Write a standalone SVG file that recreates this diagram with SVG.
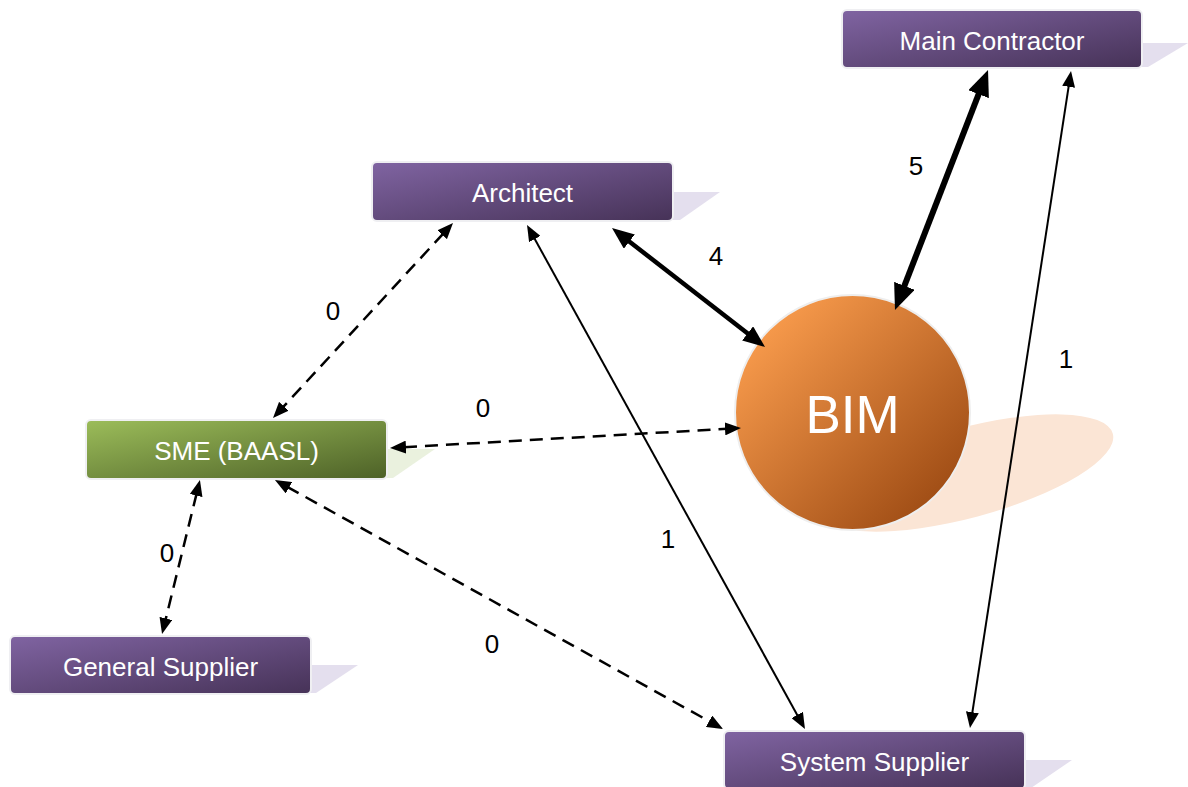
<svg xmlns="http://www.w3.org/2000/svg" width="1188" height="787" viewBox="0 0 1188 787">
  <defs>
    <linearGradient id="gPurple" x1="0" y1="0" x2="1" y2="1">
      <stop offset="0" stop-color="#8064a2"/>
      <stop offset="1" stop-color="#463257"/>
    </linearGradient>
    <linearGradient id="gGreen" x1="0" y1="0" x2="1" y2="1">
      <stop offset="0" stop-color="#9cbd5a"/>
      <stop offset="1" stop-color="#4d6127"/>
    </linearGradient>
    <linearGradient id="gOrange" x1="0.15" y1="0.15" x2="0.9" y2="0.9">
      <stop offset="0" stop-color="#f5984a"/>
      <stop offset="1" stop-color="#9c4a13"/>
    </linearGradient>
    <marker id="arrS" markerUnits="userSpaceOnUse" markerWidth="16" markerHeight="13" refX="2" refY="6.5" orient="auto-start-reverse" viewBox="0 0 16 13">
      <path d="M0,0 L16,6.5 L0,13 Z" fill="#000"/>
    </marker>
    <marker id="arrM" markerUnits="userSpaceOnUse" markerWidth="22" markerHeight="18" refX="3" refY="9" orient="auto-start-reverse" viewBox="0 0 22 18">
      <path d="M0,0 L22,9 L0,18 Z" fill="#000"/>
    </marker>
    <marker id="arrL" markerUnits="userSpaceOnUse" markerWidth="26" markerHeight="22" refX="3" refY="11" orient="auto-start-reverse" viewBox="0 0 26 22">
      <path d="M0,0 L26,11 L0,22 Z" fill="#000"/>
    </marker>
  </defs>
  <style>
    .box { stroke: #efeff2; stroke-width: 2; }
    .purple { fill: url(#gPurple); }
    .green { fill: url(#gGreen); }
    .shPurple { fill: #e4dfee; }
    .shGreen { fill: #eaf1de; }
    .lbl { font-family: "Liberation Sans", Arial, sans-serif; font-size: 26px; fill: #ffffff; text-anchor: middle; }
    .num { font-family: "Liberation Sans", Arial, sans-serif; font-size: 26px; fill: #000000; text-anchor: middle; }
    .thin { stroke: #000; stroke-width: 2; fill: none; marker-start: url(#arrS); marker-end: url(#arrS); }
    .dash { stroke: #000; stroke-width: 2.5; fill: none; stroke-dasharray: 13 8; marker-start: url(#arrS); marker-end: url(#arrS); }
  </style>

  <rect width="1188" height="787" fill="#ffffff"/>

  <!-- BIM hub -->
  <g id="bim">
    <ellipse cx="966" cy="473" rx="152" ry="45" transform="rotate(-15 966 473)" fill="#fbe5d5"/>
    <circle cx="852.5" cy="412.5" r="117.5" fill="url(#gOrange)" stroke="#eeeeee" stroke-width="2"/>
    <text x="852.5" y="433" font-family="Liberation Sans, Arial, sans-serif" font-size="53" fill="#ffffff" text-anchor="middle">BIM</text>
  </g>

  <g id="main-contractor">
    <polygon class="shPurple" points="1132,43 1188,43 1148,67 1132,67"/>
    <rect class="box purple" x="842" y="10" width="300" height="58" rx="5"/>
    <text class="lbl" x="992" y="50">Main Contractor</text>
  </g>

  <g id="architect">
    <polygon class="shPurple" points="663,192 720,192 680,220 663,220"/>
    <rect class="box purple" x="372" y="162" width="301" height="59" rx="5"/>
    <text class="lbl" x="522.5" y="202">Architect</text>
  </g>

  <g id="sme">
    <polygon class="shGreen" points="377,449 435,449 393,478 377,478"/>
    <rect class="box green" x="86" y="420" width="301" height="59" rx="5"/>
    <text class="lbl" x="236.5" y="460">SME (BAASL)</text>
  </g>

  <g id="general-supplier">
    <polygon class="shPurple" points="301,665 358,665 316,693 301,693"/>
    <rect class="box purple" x="10" y="636" width="301" height="58" rx="5"/>
    <text class="lbl" x="160.5" y="676">General Supplier</text>
  </g>

  <g id="system-supplier">
    <polygon class="shPurple" points="1015,760 1072,760 1031,788 1015,788"/>
    <rect class="box purple" x="724" y="731" width="301" height="58" rx="5"/>
    <text class="lbl" x="874.5" y="771">System Supplier</text>
  </g>

  <!-- connectors -->
  <g id="connectors">
    <line x1="979.7" y1="91.4" x2="903.3" y2="288.6" stroke="#000" stroke-width="6" marker-start="url(#arrL)" marker-end="url(#arrL)"/>
    <line x1="627" y1="239.7" x2="750" y2="335.3" stroke="#000" stroke-width="4.5" marker-start="url(#arrM)" marker-end="url(#arrM)"/>
    <line class="thin" x1="1068.9" y1="84.8" x2="972.1" y2="714.2"/>
    <line class="thin" x1="533.8" y1="237.3" x2="798.2" y2="716.7"/>
    <line class="dash" x1="443.5" y1="233.3" x2="282.5" y2="407.7"/>
    <line class="dash" x1="404" y1="447.2" x2="727" y2="428.8"/>
    <line class="dash" x1="196.6" y1="493.6" x2="165.4" y2="620.4"/>
    <line class="dash" x1="287.2" y1="486.8" x2="710.8" y2="722.2"/>
  </g>

  <!-- connector weights -->
  <g id="weights">
    <text class="num" x="916" y="175">5</text>
    <text class="num" x="716" y="265">4</text>
    <text class="num" x="1066" y="368">1</text>
    <text class="num" x="333" y="320">0</text>
    <text class="num" x="483" y="417">0</text>
    <text class="num" x="167" y="562">0</text>
    <text class="num" x="668" y="548">1</text>
    <text class="num" x="492" y="653">0</text>
  </g>
</svg>
